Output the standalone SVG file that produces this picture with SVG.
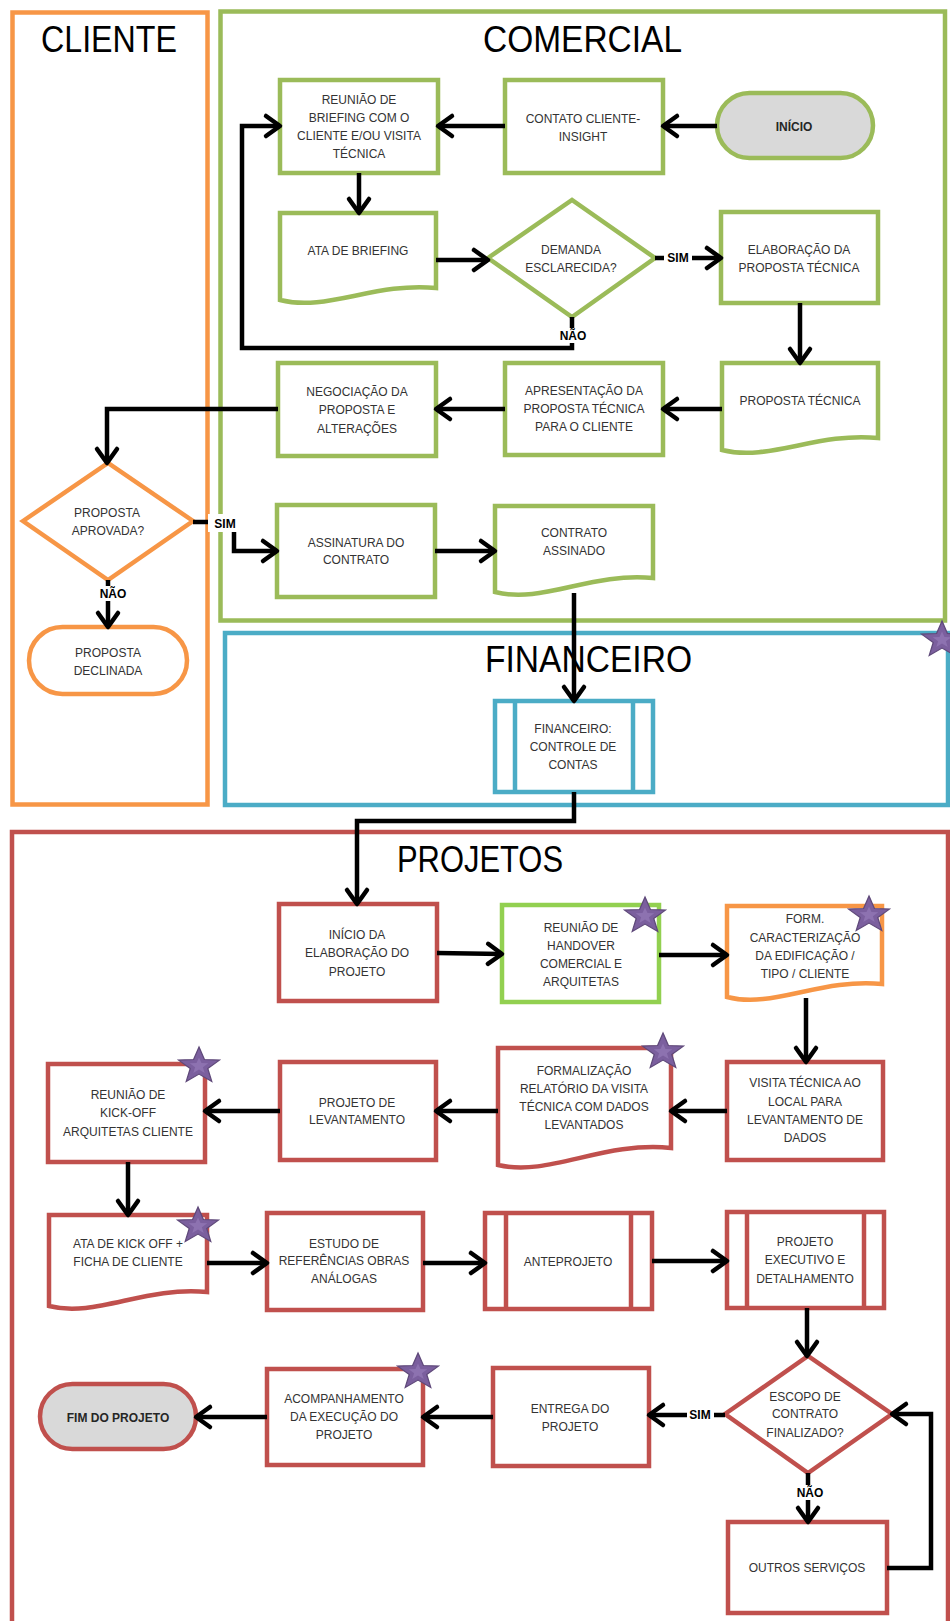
<svg xmlns="http://www.w3.org/2000/svg" xmlns:xlink="http://www.w3.org/1999/xlink" width="950" height="1621" viewBox="0 0 950 1621">
  <style>
    .lane { fill: #ffffff; stroke-width: 4.5; }
    .title { font-family: "Liberation Sans", Arial, sans-serif; font-size: 37px; fill: #000000; }
    .box { fill: #ffffff; stroke-width: 4.5; stroke-linejoin: miter; }
    .g { stroke: #9bbb59; }
    .lg { stroke: #92d050; }
    .o { stroke: #f79646; }
    .b { stroke: #4bacc6; }
    .r { stroke: #c0504d; }
    .term { fill: #d9d9d9; }
    .t { font-family: "Liberation Sans", Arial, sans-serif; font-size: 12px; fill: #333333; text-anchor: middle; }
    .tb { font-family: "Liberation Sans", Arial, sans-serif; font-size: 12px; font-weight: bold; fill: #262626; text-anchor: middle; }
    .lbl { font-family: "Liberation Sans", Arial, sans-serif; font-size: 12px; font-weight: bold; fill: #000000; text-anchor: middle; }
    .conn { fill: none; stroke: #000000; stroke-width: 4.5; stroke-linejoin: miter; marker-end: url(#arrow); }
    .plain { fill: none; stroke: #000000; stroke-width: 4.5; }
    .bg { fill: #ffffff; }
  </style>
  <defs>
    <marker id="arrow" markerUnits="userSpaceOnUse" viewBox="-20 -14 24 28" refX="0" refY="0" markerWidth="24" markerHeight="28" orient="auto">
      <path d="M-14,-10 L0,0 L-14,10" fill="none" stroke="#000000" stroke-width="4.5" stroke-linecap="round" stroke-linejoin="round"/>
    </marker>
    <g id="star">
      <polygon points="0,-20 5,-6.9 19,-6.2 8.1,2.6 11.8,16.2 0,8.5 -11.8,16.2 -8.1,2.6 -19,-6.2 -5,-6.9" fill="#7b5f9e" stroke="#5f497a" stroke-width="1.2" transform="scale(1.08,0.95)"/>
      <polygon points="0,-9 2.3,-3.1 8.6,-2.8 3.6,1.2 5.3,7.3 0,3.8 -5.3,7.3 -3.6,1.2 -8.6,-2.8 -2.3,-3.1" fill="#8d72b0" transform="scale(1.08,0.95)"/>
    </g>
  </defs>

  <!-- swimlanes -->
  <g id="lane-cliente">
    <rect class="lane o" x="12.5" y="12.5" width="195" height="792"/>
    <text class="title" x="41" y="52" textLength="136" lengthAdjust="spacingAndGlyphs">CLIENTE</text>
  </g>
  <g id="lane-comercial">
    <rect class="lane g" x="220.5" y="11.5" width="724.5" height="609"/>
    <text class="title" x="483" y="52" textLength="199" lengthAdjust="spacingAndGlyphs">COMERCIAL</text>
  </g>
  <g id="lane-financeiro">
    <rect class="lane b" x="225" y="633" width="723" height="172"/>
    <text class="title" x="485" y="672" textLength="207" lengthAdjust="spacingAndGlyphs">FINANCEIRO</text>
  </g>
  <g id="lane-projetos">
    <rect class="lane r" x="12" y="832" width="936" height="820"/>
    <text class="title" x="397" y="872" textLength="166" lengthAdjust="spacingAndGlyphs">PROJETOS</text>
  </g>

  <!-- COMERCIAL -->
  <g id="inicio">
    <rect class="box g term" x="717" y="93" width="156" height="65" rx="32.5"/>
    <text class="tb" x="794" y="131">INÍCIO</text>
  </g>
  <g id="contato-cliente">
    <rect class="box g" x="505" y="80" width="158" height="93"/>
    <text class="t" x="583" y="123">CONTATO CLIENTE-</text>
    <text class="t" x="583" y="141">INSIGHT</text>
  </g>
  <g id="reuniao-briefing">
    <rect class="box g" x="280" y="80" width="158" height="93"/>
    <text class="t" x="359" y="104">REUNIÃO DE</text>
    <text class="t" x="359" y="122">BRIEFING COM O</text>
    <text class="t" x="359" y="140">CLIENTE E/OU VISITA</text>
    <text class="t" x="359" y="158">TÉCNICA</text>
  </g>
  <g id="ata-briefing">
    <path class="box g" d="M280,213 H436 V288 C374,282 327,312 280,300 Z"/>
    <text class="t" x="358" y="255">ATA DE BRIEFING</text>
  </g>
  <g id="demanda-esclarecida">
    <polygon class="box g" points="488,258 572,200 655,258 572,317"/>
    <text class="t" x="571" y="254">DEMANDA</text>
    <text class="t" x="571" y="272">ESCLARECIDA?</text>
  </g>
  <g id="elaboracao-proposta">
    <rect class="box g" x="721" y="212" width="157" height="91"/>
    <text class="t" x="799" y="254">ELABORAÇÃO DA</text>
    <text class="t" x="799" y="272">PROPOSTA TÉCNICA</text>
  </g>
  <g id="proposta-tecnica">
    <path class="box g" d="M722,363 H878 V438 C816,432 769,462 722,450 Z"/>
    <text class="t" x="800" y="405">PROPOSTA TÉCNICA</text>
  </g>
  <g id="apresentacao-proposta">
    <rect class="box g" x="505" y="363" width="158" height="92"/>
    <text class="t" x="584" y="395">APRESENTAÇÃO DA</text>
    <text class="t" x="584" y="413">PROPOSTA TÉCNICA</text>
    <text class="t" x="584" y="431">PARA O CLIENTE</text>
  </g>
  <g id="negociacao-proposta">
    <rect class="box g" x="278" y="363" width="158" height="93"/>
    <text class="t" x="357" y="396">NEGOCIAÇÃO DA</text>
    <text class="t" x="357" y="414">PROPOSTA E</text>
    <text class="t" x="357" y="433">ALTERAÇÕES</text>
  </g>
  <g id="assinatura-contrato">
    <rect class="box g" x="277" y="505" width="158" height="92"/>
    <text class="t" x="356" y="547">ASSINATURA DO</text>
    <text class="t" x="356" y="564">CONTRATO</text>
  </g>
  <g id="contrato-assinado">
    <path class="box g" d="M495,506 H653 V578 C590,572 543,604 495,592 Z"/>
    <text class="t" x="574" y="537">CONTRATO</text>
    <text class="t" x="574" y="555">ASSINADO</text>
  </g>

  <!-- CLIENTE -->
  <g id="proposta-aprovada">
    <polygon class="box o" points="23,521 108,463 193,521 108,580"/>
    <text class="t" x="107" y="517">PROPOSTA</text>
    <text class="t" x="108" y="535">APROVADA?</text>
  </g>
  <g id="proposta-declinada">
    <rect class="box o" x="29" y="627" width="158" height="67" rx="33.5"/>
    <text class="t" x="108" y="657">PROPOSTA</text>
    <text class="t" x="108" y="675">DECLINADA</text>
  </g>

  <!-- FINANCEIRO -->
  <g id="financeiro-controle">
    <rect class="box b" x="495" y="701" width="158" height="91"/>
    <line class="b" x1="515" y1="701" x2="515" y2="792" stroke-width="4.5"/>
    <line class="b" x1="633" y1="701" x2="633" y2="792" stroke-width="4.5"/>
    <text class="t" x="573" y="733">FINANCEIRO:</text>
    <text class="t" x="573" y="751">CONTROLE DE</text>
    <text class="t" x="573" y="769">CONTAS</text>
  </g>

  <!-- PROJETOS -->
  <g id="inicio-elaboracao">
    <rect class="box r" x="279" y="904" width="158" height="97"/>
    <text class="t" x="357" y="939">INÍCIO DA</text>
    <text class="t" x="357" y="957">ELABORAÇÃO DO</text>
    <text class="t" x="357" y="976">PROJETO</text>
  </g>
  <g id="reuniao-handover">
    <rect class="box lg" x="502" y="905" width="157" height="97"/>
    <text class="t" x="581" y="932">REUNIÃO DE</text>
    <text class="t" x="581" y="950">HANDOVER</text>
    <text class="t" x="581" y="968">COMERCIAL E</text>
    <text class="t" x="581" y="986">ARQUITETAS</text>
  </g>
  <g id="form-caracterizacao">
    <path class="box o" d="M727,906 H882 V984 C820,978 773,1009 727,997 Z"/>
    <text class="t" x="805" y="923">FORM.</text>
    <text class="t" x="805" y="942">CARACTERIZAÇÃO</text>
    <text class="t" x="805" y="960">DA EDIFICAÇÃO /</text>
    <text class="t" x="805" y="978">TIPO / CLIENTE</text>
  </g>
  <g id="visita-tecnica">
    <rect class="box r" x="727" y="1062" width="156" height="98"/>
    <text class="t" x="805" y="1087">VISITA TÉCNICA AO</text>
    <text class="t" x="805" y="1106">LOCAL PARA</text>
    <text class="t" x="805" y="1124">LEVANTAMENTO DE</text>
    <text class="t" x="805" y="1142">DADOS</text>
  </g>
  <g id="formalizacao-relatorio">
    <path class="box r" d="M498,1048 H671 V1148 C602,1141 550,1177 498,1165 Z"/>
    <text class="t" x="584" y="1075">FORMALIZAÇÃO</text>
    <text class="t" x="584" y="1093">RELATÓRIO DA VISITA</text>
    <text class="t" x="584" y="1111">TÉCNICA COM DADOS</text>
    <text class="t" x="584" y="1129">LEVANTADOS</text>
  </g>
  <g id="projeto-levantamento">
    <rect class="box r" x="280" y="1062" width="156" height="98"/>
    <text class="t" x="357" y="1107">PROJETO DE</text>
    <text class="t" x="357" y="1124">LEVANTAMENTO</text>
  </g>
  <g id="reuniao-kickoff">
    <rect class="box r" x="48" y="1064" width="157" height="98"/>
    <text class="t" x="128" y="1099">REUNIÃO DE</text>
    <text class="t" x="128" y="1117">KICK-OFF</text>
    <text class="t" x="128" y="1136">ARQUITETAS CLIENTE</text>
  </g>
  <g id="ata-kickoff">
    <path class="box r" d="M49,1215 H207 V1292 C144,1286 96,1318 49,1306 Z"/>
    <text class="t" x="128" y="1248">ATA DE KICK OFF +</text>
    <text class="t" x="128" y="1266">FICHA DE CLIENTE</text>
  </g>
  <g id="estudo-referencias">
    <rect class="box r" x="267" y="1213" width="156" height="97"/>
    <text class="t" x="344" y="1248">ESTUDO DE</text>
    <text class="t" x="344" y="1265">REFERÊNCIAS OBRAS</text>
    <text class="t" x="344" y="1283">ANÁLOGAS</text>
  </g>
  <g id="anteprojeto">
    <rect class="box r" x="485" y="1213" width="167" height="96"/>
    <line class="r" x1="506" y1="1213" x2="506" y2="1309" stroke-width="4.5"/>
    <line class="r" x1="631" y1="1213" x2="631" y2="1309" stroke-width="4.5"/>
    <text class="t" x="568" y="1266">ANTEPROJETO</text>
  </g>
  <g id="projeto-executivo">
    <rect class="box r" x="727" y="1212" width="157" height="96"/>
    <line class="r" x1="747" y1="1212" x2="747" y2="1308" stroke-width="4.5"/>
    <line class="r" x1="864" y1="1212" x2="864" y2="1308" stroke-width="4.5"/>
    <text class="t" x="805" y="1246">PROJETO</text>
    <text class="t" x="805" y="1264">EXECUTIVO E</text>
    <text class="t" x="805" y="1283">DETALHAMENTO</text>
  </g>
  <g id="escopo-finalizado">
    <polygon class="box r" points="725,1414 808,1356 892,1414 808,1473"/>
    <text class="t" x="805" y="1401">ESCOPO DE</text>
    <text class="t" x="805" y="1418">CONTRATO</text>
    <text class="t" x="805" y="1437">FINALIZADO?</text>
  </g>
  <g id="entrega-projeto">
    <rect class="box r" x="493" y="1368" width="156" height="98"/>
    <text class="t" x="570" y="1413">ENTREGA DO</text>
    <text class="t" x="570" y="1431">PROJETO</text>
  </g>
  <g id="outros-servicos">
    <rect class="box r" x="728" y="1522" width="159" height="91"/>
    <text class="t" x="807" y="1572">OUTROS SERVIÇOS</text>
  </g>
  <g id="acompanhamento-execucao">
    <rect class="box r" x="267" y="1369" width="156" height="96"/>
    <text class="t" x="344" y="1403">ACOMPANHAMENTO</text>
    <text class="t" x="344" y="1421">DA EXECUÇÃO DO</text>
    <text class="t" x="344" y="1439">PROJETO</text>
  </g>
  <g id="fim-projeto">
    <rect class="box r term" x="40" y="1384" width="156" height="65" rx="32.5"/>
    <text class="tb" x="118" y="1422">FIM DO PROJETO</text>
  </g>

  <!-- connectors -->
  <g id="connectors">
    <path class="conn" d="M717,126 H663"/>
    <path class="conn" d="M505,126 H438"/>
    <path class="conn" d="M359,173 V213"/>
    <path class="conn" d="M436,260 H488"/>
    <path class="conn" d="M655,258 H721"/>
    <path class="conn" d="M572,317 V348 H242 V126 H280"/>
    <path class="conn" d="M800,303 V363"/>
    <path class="conn" d="M722,409 H663"/>
    <path class="conn" d="M505,409 H436"/>
    <path class="conn" d="M278,409 H107 V463"/>
    <path class="conn" d="M193,522 H234 V551 H277"/>
    <path class="conn" d="M108,580 V627"/>
    <path class="conn" d="M435,551 H495"/>
    <path class="conn" d="M574,593 V701"/>
    <path class="conn" d="M574,792 V821 H357 V904"/>
    <path class="conn" d="M437,953 L502,954"/>
    <path class="conn" d="M659,955 H727"/>
    <path class="conn" d="M806,998 V1062"/>
    <path class="conn" d="M727,1111 H671"/>
    <path class="conn" d="M498,1111 H436"/>
    <path class="conn" d="M280,1111 H205"/>
    <path class="conn" d="M128,1162 V1215"/>
    <path class="conn" d="M207,1263 H267"/>
    <path class="conn" d="M423,1263 H485"/>
    <path class="conn" d="M652,1261 H727"/>
    <path class="conn" d="M807,1308 V1356"/>
    <path class="conn" d="M725,1415 H649"/>
    <path class="conn" d="M808,1473 V1522"/>
    <path class="conn" d="M887,1568 H931 V1414 H892"/>
    <path class="conn" d="M493,1417 H423"/>
    <path class="conn" d="M267,1417 H196"/>

    <!-- branch labels -->
    <rect class="bg" x="664" y="251" width="28" height="14"/>
    <text class="lbl" x="678" y="262">SIM</text>
    <rect class="bg" x="557" y="328" width="31" height="15"/>
    <text class="lbl" x="573" y="340">NÃO</text>
    <rect class="bg" x="208" y="514" width="32" height="18"/>
    <text class="lbl" x="225" y="528">SIM</text>
    <rect class="bg" x="97" y="586" width="32" height="15"/>
    <text class="lbl" x="113" y="598">NÃO</text>
    <rect class="bg" x="687" y="1408" width="27" height="14"/>
    <text class="lbl" x="700" y="1419">SIM</text>
    <rect class="bg" x="795" y="1485" width="31" height="15"/>
    <text class="lbl" x="810" y="1497">NÃO</text>
  </g>

  <!-- markers on selected steps -->
  <g id="stars">
    <use xlink:href="#star" x="942" y="640"/>
    <use xlink:href="#star" x="645" y="916"/>
    <use xlink:href="#star" x="869" y="915"/>
    <use xlink:href="#star" x="663" y="1052"/>
    <use xlink:href="#star" x="199" y="1066"/>
    <use xlink:href="#star" x="198" y="1226"/>
    <use xlink:href="#star" x="418" y="1372"/>
  </g>
</svg>
